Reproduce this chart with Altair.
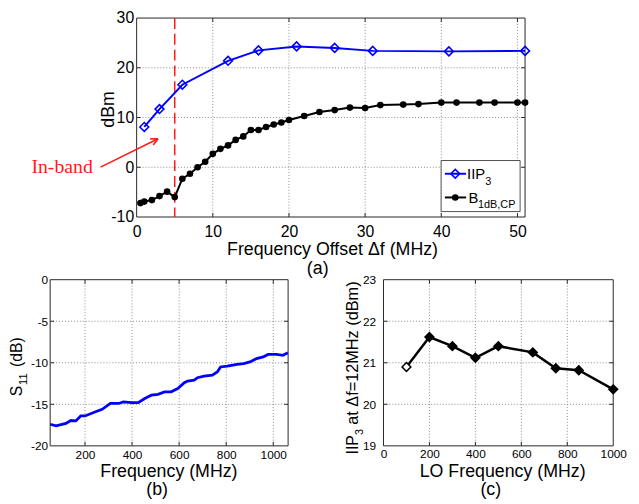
import math
import altair as alt
import pandas as pd

# ---------------- data ----------------
# (a) two-tone test vs frequency offset
off_iip3 = [1, 3, 6, 12, 16, 21, 26, 31, 41, 51]
iip3 = [8.1, 11.7, 16.6, 21.4, 23.5, 24.3, 24.0, 23.4, 23.3, 23.4]

off_b1db = [0.5, 1, 2, 3, 4, 5, 6, 7, 8, 9, 10, 11, 12, 13, 14, 15, 16, 17, 18, 19, 20,
            22, 24, 26, 28, 30, 32, 35, 37, 40, 42, 45, 47, 50, 51]
b1db = [-7.2, -6.9, -6.6, -5.8, -4.9, -6.0, -2.3, -1.3, 0.0, 1.1, 2.7, 3.7, 4.4, 5.5, 6.2,
        7.5, 7.5, 8.1, 8.6, 9.0, 9.5, 10.3, 11.1, 11.5, 12.0, 11.9, 12.5, 12.6, 12.7,
        13.0, 13.0, 13.0, 13.0, 13.0, 13.0]
inband_edge = [5]

# (b) S11
s11_freq = [52, 77, 119, 140, 161, 182, 200, 245, 273, 308, 343, 363, 398, 426, 454, 482,
            510, 538, 566, 594, 622, 636, 664, 678, 706, 741, 762, 776, 804, 846, 874, 901,
            929, 957, 978, 1013, 1041, 1062]
s11_db = [-17.4, -17.6, -17.3, -16.95, -17.0, -16.4, -16.4, -15.9, -15.6, -14.9, -14.9,
          -14.7, -14.8, -14.8, -14.3, -13.9, -13.8, -13.5, -13.5, -13.1, -12.4, -12.2,
          -12.1, -11.8, -11.6, -11.5, -11.1, -10.5, -10.4, -10.2, -10.1, -9.9, -9.5,
          -9.3, -9.0, -9.0, -9.1, -8.8]

# (c) IIP3 at 12 MHz offset vs LO frequency
lo_freq = [100, 200, 300, 400, 500, 650, 750, 850, 1000]
iip3_lo = [20.9, 21.62, 21.4, 21.12, 21.4, 21.25, 20.87, 20.82, 20.36]

# tick values
a_xticks = [0, 10, 20, 30, 40, 50]
a_yticks = [-10, 0, 10, 20, 30]
b_xticks = [200, 400, 600, 800, 1000]
b_yticks = [-20, -15, -10, -5, 0]
c_xticks = [0, 200, 400, 600, 800, 1000]
c_yticks = [19, 20, 21, 22, 23]

# ---------------- layout (pixels inside the view) ----------------
W, H = 631, 496
A_X, A_Y = [130.3, 523.7], [208.5, 7.0]
B_X, B_Y = [42.7, 283.7], [440.3, 272.0]
C_X, C_Y = [380.3, 613.0], [440.3, 272.0]

SANS = "Arial, Liberation Sans, sans-serif"
SERIF = "Times New Roman, Liberation Serif, serif"
one = pd.DataFrame({"k": [0]})


def sc(dom, rng):
    return alt.Scale(domain=dom, range=rng, nice=False, zero=False)


def txt(s, x, y, size, angle=0, align="center", baseline="alphabetic", color="black", font=SANS):
    kw = dict(text=s, fontSize=size, align=align, baseline=baseline, color=color, font=font)
    if angle:
        kw["angle"] = angle
    return alt.Chart(one).mark_text(**kw).encode(x=alt.value(x), y=alt.value(y))


def panel(xdom, ydom, xr, yr, xticks, yticks, lsize, xpad, ypad):
    xs, ys = sc(xdom, xr), sc(ydom, yr)
    layers = []
    # frame
    layers.append(alt.Chart(one).mark_rect(fill="white", stroke="#262626", strokeWidth=1).encode(
        x=alt.value(xr[0]), x2=alt.value(xr[1]), y=alt.value(yr[1]), y2=alt.value(yr[0])))
    xg = [v for v in xticks if xdom[0] < v < xdom[1]]
    yg = [v for v in yticks if ydom[0] < v < ydom[1]]
    lab = "'' + datum.value"
    xaxis = alt.Axis(orient="bottom", offset=yr[0] - H, values=xticks, grid=False, domain=False,
                     ticks=False, tickSize=0, labelFlush=False, labelFont=SANS, labelFontSize=lsize,
                     labelColor="black", labelPadding=xpad, labelExpr=lab, title=None,
                     labelOverlap=False)
    yaxis = alt.Axis(orient="left", offset=-xr[0], values=yticks, grid=False, domain=False,
                     ticks=False, tickSize=0, labelFont=SANS, labelFontSize=lsize,
                     labelColor="black", labelPadding=ypad, labelExpr=lab, title=None,
                     labelOverlap=False)
    layers.append(alt.Chart(pd.DataFrame({"v": xg})).mark_rule(
        color="#8a8a8a", strokeDash=[1, 2], strokeWidth=1).encode(
        x=alt.X("v:Q", scale=xs, axis=xaxis), y=alt.value(yr[1]), y2=alt.value(yr[0])))
    layers.append(alt.Chart(pd.DataFrame({"v": yg})).mark_rule(
        color="#8a8a8a", strokeDash=[1, 2], strokeWidth=1).encode(
        y=alt.Y("v:Q", scale=ys, axis=yaxis), x=alt.value(xr[0]), x2=alt.value(xr[1])))
    # small inward tick marks on all four sides
    for y0, y1 in [(yr[0], yr[0] - 4), (yr[1], yr[1] + 4)]:
        layers.append(alt.Chart(pd.DataFrame({"v": xg})).mark_rule(
            color="#262626", strokeWidth=1).encode(
            x=alt.X("v:Q", scale=xs, axis=None), y=alt.value(y0), y2=alt.value(y1)))
    for x0, x1 in [(xr[0], xr[0] + 4), (xr[1], xr[1] - 4)]:
        layers.append(alt.Chart(pd.DataFrame({"v": yg})).mark_rule(
            color="#262626", strokeWidth=1).encode(
            y=alt.Y("v:Q", scale=ys, axis=None), x=alt.value(x0), x2=alt.value(x1)))
    return xs, ys, layers


layers = []

# ---------- panel (a) ----------
axs, ays, pl = panel([0, 51], [-10, 30], A_X, A_Y, a_xticks, a_yticks, 16, 7, 3)
layers += pl
layers.append(alt.Chart(pd.DataFrame({"x": inband_edge})).mark_rule(
    color="#ff1a1a", strokeDash=[11, 5], strokeWidth=1.5).encode(
    x=alt.X("x:Q", scale=axs, axis=None), y=alt.value(A_Y[1]), y2=alt.value(A_Y[0])))
dfa1 = pd.DataFrame({"x": off_iip3, "y": iip3})
dfa2 = pd.DataFrame({"x": off_b1db, "y": b1db})
enc = dict(x=alt.X("x:Q", scale=axs, axis=None), y=alt.Y("y:Q", scale=ays, axis=None))
layers.append(alt.Chart(dfa2).mark_line(color="black", strokeWidth=2).encode(**enc))
layers.append(alt.Chart(dfa2).mark_point(shape="circle", filled=True, color="black", size=45,
                                         opacity=1).encode(**enc))
layers.append(alt.Chart(dfa1).mark_line(color="#0000ff", strokeWidth=2).encode(**enc))
layers.append(alt.Chart(dfa1).mark_point(shape="diamond", filled=False, color="#0000ff", size=80,
                                         strokeWidth=1.6, opacity=1).encode(**enc))

# legend box
LX0, LX1, LY0, LY1 = 438.7, 518.7, 151.3, 203.0
layers.append(alt.Chart(one).mark_rect(fill="white", stroke="#505050", strokeWidth=1).encode(
    x=alt.value(LX0), x2=alt.value(LX1), y=alt.value(LY0), y2=alt.value(LY1)))
for yy, col in [(164.7, "#0000ff"), (188.7, "black")]:
    layers.append(alt.Chart(one).mark_rule(color=col, strokeWidth=2).encode(
        x=alt.value(442.5), x2=alt.value(464.0), y=alt.value(yy)))
layers.append(alt.Chart(one).mark_point(shape="diamond", filled=False, color="#0000ff", size=80,
                                        strokeWidth=1.6, opacity=1).encode(
    x=alt.value(453), y=alt.value(164.7)))
layers.append(alt.Chart(one).mark_point(shape="circle", filled=True, color="black", size=45,
                                        opacity=1).encode(x=alt.value(453), y=alt.value(188.7)))
layers.append(txt("IIP", 465, 170, 15, align="left"))
layers.append(txt("3", 483.5, 176, 11, align="left"))
layers.append(txt("B", 466.3, 194, 15, align="left"))
layers.append(txt("1dB,CP", 476.0, 199.5, 11, align="left"))

# titles of (a)
layers.append(txt("dBm", 107, 99.5, 18, angle=270))
layers.append(txt("Frequency Offset \u0394f (MHz)", 328.7, 246.5, 18))
layers.append(txt("(a)", 313.7, 266.5, 18))

# In-band annotation with arrow
layers.append(txt("In-band", 23.7, 164, 20, align="left", color="#ff1a1a", font=SERIF))
ax0, ay0, ax1, ay1 = 93.7, 158.0, 152.0, 129.3
layers.append(alt.Chart(one).mark_rule(color="#ff1a1a", strokeWidth=1.6).encode(
    x=alt.value(ax0), y=alt.value(ay0), x2=alt.value(ax1), y2=alt.value(ay1)))
ang = math.atan2(ay0 - ay1, ax0 - ax1)
for d in (0.45, -0.45):
    layers.append(alt.Chart(one).mark_rule(color="#ff1a1a", strokeWidth=1.6).encode(
        x=alt.value(ax1), y=alt.value(ay1),
        x2=alt.value(ax1 + 8 * math.cos(ang + d)), y2=alt.value(ay1 + 8 * math.sin(ang + d))))

# ---------- panel (b) ----------
bxs, bys, pl = panel([52, 1063], [-20, 0], B_X, B_Y, b_xticks, b_yticks, 12, 3.5, 2.5)
layers += pl
layers.append(alt.Chart(pd.DataFrame({"x": s11_freq, "y": s11_db})).mark_line(
    color="#0000ff", strokeWidth=2.8).encode(
    x=alt.X("x:Q", scale=bxs, axis=None), y=alt.Y("y:Q", scale=bys, axis=None)))
# y title "S11 (dB)" with subscript, rotated
layers.append(txt("S", 14.6, 390, 16, angle=270, align="left"))
layers.append(txt("11", 19.0, 379.0, 12, angle=270, align="left"))
layers.append(txt("(dB)", 14.6, 360.5, 16, angle=270, align="left"))
layers.append(txt("Frequency (MHz)", 163, 471.5, 18))
layers.append(txt("(b)", 151, 490, 18))

# ---------- panel (c) ----------
cxs, cys, pl = panel([0, 1000], [19, 23], C_X, C_Y, c_xticks, c_yticks, 12, 3, 8)
layers += pl
dfc = pd.DataFrame({"x": lo_freq, "y": iip3_lo,
                    "fill": ["white"] + ["black"] * (len(lo_freq) - 1)})
encc = dict(x=alt.X("x:Q", scale=cxs, axis=None), y=alt.Y("y:Q", scale=cys, axis=None))
layers.append(alt.Chart(dfc).mark_line(color="black", strokeWidth=2.5).encode(**encc))
layers.append(alt.Chart(dfc).mark_point(shape="diamond", filled=True, stroke="black",
                                        strokeWidth=1.5, size=80, opacity=1).encode(
    fill=alt.Fill("fill:N", scale=None), **encc))
# y title "IIP3 at Δf=12MHz (dBm)" with subscript, rotated
layers.append(txt("IIP", 354.3, 449, 16, angle=270, align="left"))
layers.append(txt("3", 359.3, 429.4, 11, angle=270, align="left"))
layers.append(txt("at \u0394f=12MHz (dBm)", 354.3, 419, 16.5, angle=270, align="left"))
layers.append(txt("LO Frequency (MHz)", 501, 471.5, 18))
layers.append(txt("(c)", 489, 490, 18))

chart = alt.layer(*layers).resolve_scale(x="independent", y="independent").properties(
    width=W, height=H, autosize=alt.AutoSizeParams(type="none"), padding=0,
    background="white").configure_view(stroke=None)

chart.save("out.html", embed_options={"renderer": "svg", "actions": False})
